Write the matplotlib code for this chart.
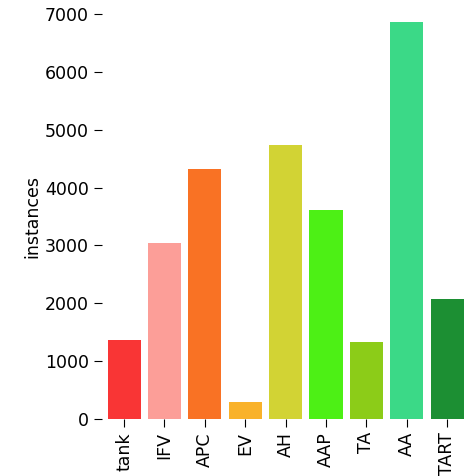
import matplotlib
matplotlib.use('Agg')
import matplotlib.pyplot as plt

categories = ['tank', 'IFV', 'APC', 'EV', 'AH', 'AAP', 'TA', 'AA', 'TART']
instances = [1370, 3050, 4320, 300, 4740, 3620, 1335, 6860, 2080]
colors = ['#f93535', '#fc9e98', '#f97224', '#f9b22a', '#d2d334',
          '#4df015', '#8ccc18', '#3bd987', '#1c8f33']

fig, ax = plt.subplots(figsize=(4.74, 4.76), dpi=100)
ax.bar(range(len(categories)), instances, color=colors, width=0.82)
ax.set_xticks(range(len(categories)))
ax.set_xticklabels(categories, rotation=90, fontsize=12.5)
ax.set_yticks(range(0, 7001, 1000))
ax.tick_params(axis='y', labelsize=12.5, length=6)
ax.tick_params(axis='x', length=6)
ax.set_ylabel('instances', fontsize=12.5, labelpad=2)
ax.set_ylim(0, 7000)
ax.set_xlim(-0.55, 8.55)
for s in ax.spines.values():
    s.set_visible(False)
plt.subplots_adjust(left=0.215, right=0.99, bottom=0.12, top=0.97)
plt.savefig('out.png')
